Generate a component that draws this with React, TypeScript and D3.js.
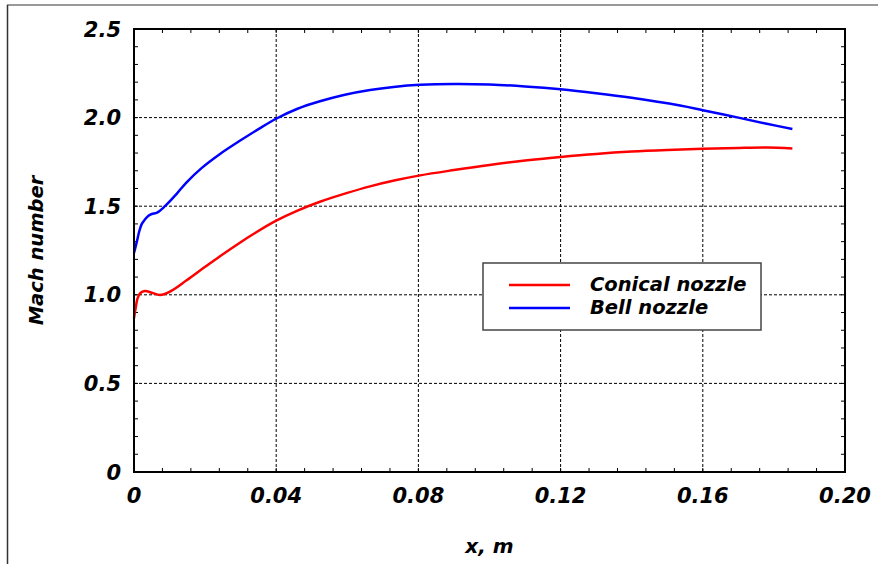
import React from "react";
import * as d3 from "d3";

const xTicks = [0, 0.04, 0.08, 0.12, 0.16, 0.2];
const xTickLabels = ["0", "0.04", "0.08", "0.12", "0.16", "0.20"];
const yTicks = [0, 0.5, 1.0, 1.5, 2.0, 2.5];
const yTickLabels = ["0", "0.5", "1.0", "1.5", "2.0", "2.5"];

const bellX = [0, 0.0008, 0.0015, 0.0022, 0.003, 0.004, 0.005, 0.0065, 0.0087, 0.012, 0.0148, 0.019, 0.0242, 0.03, 0.035, 0.0401, 0.046, 0.0523, 0.059, 0.0664, 0.073, 0.0805, 0.09, 0.1, 0.11, 0.12, 0.13, 0.14, 0.1536, 0.16, 0.17, 0.178, 0.1852];
const bellM = [1.236, 1.3, 1.36, 1.4, 1.423, 1.445, 1.456, 1.464, 1.5, 1.57, 1.635, 1.715, 1.795, 1.872, 1.935, 1.995, 2.05, 2.092, 2.128, 2.156, 2.173, 2.185, 2.19, 2.187, 2.176, 2.16, 2.138, 2.112, 2.068, 2.042, 2.0, 1.965, 1.936];

const conicalX = [0, 0.0005, 0.001, 0.0018, 0.0031, 0.005, 0.0073, 0.01, 0.0148, 0.02, 0.0242, 0.03, 0.0336, 0.04, 0.046, 0.0523, 0.06, 0.0664, 0.0735, 0.0805, 0.09, 0.1, 0.11, 0.12, 0.13, 0.14, 0.15, 0.16, 0.17, 0.178, 0.1852];
const conicalM = [0.867, 0.93, 0.98, 1.01, 1.021, 1.012, 0.999, 1.017, 1.082, 1.158, 1.218, 1.297, 1.343, 1.418, 1.475, 1.525, 1.575, 1.612, 1.646, 1.674, 1.704, 1.733, 1.758, 1.778, 1.795, 1.808, 1.817, 1.824, 1.829, 1.831, 1.826];

const seriesNames = ["Conical nozzle", "Bell nozzle"];
const seriesColors = ["#ff0000", "#0000ff"];

const W = 878, H = 564;
const L = 134, R = 845, T = 29, B = 472;
const FONT = "'DejaVu Sans', Verdana, sans-serif";

export default function App() {
  const x = d3.scaleLinear().domain([0, 0.2]).range([L, R]);
  const y = d3.scaleLinear().domain([0, 2.5]).range([B, T]);
  const line = d3
    .line<[number, number]>()
    .x((d) => x(d[0]))
    .y((d) => y(d[1]))
    .curve(d3.curveCatmullRom.alpha(0.5));

  const conical: [number, number][] = conicalX.map((v, i) => [v, conicalM[i]]);
  const bell: [number, number][] = bellX.map((v, i) => [v, bellM[i]]);

  const xMinor = d3.range(0, 0.2001, 0.008);
  const yMinor = d3.range(0, 2.5001, 0.1);
  const tl = 4;

  const legX = 483, legY = 263, legW = 278, legH = 67;

  return (
    <svg
      width={W}
      height={H}
      style={{ position: "absolute", left: 0, top: 0, background: "#fff" }}
      xmlns="http://www.w3.org/2000/svg"
    >
      <rect x={0} y={0} width={W} height={H} fill="#fff" />
      {/* outer frame */}
      <line x1={7} y1={5} x2={W} y2={5} stroke="#999" strokeWidth={2} />
      <line x1={7.5} y1={5} x2={7.5} y2={H} stroke="#333" strokeWidth={1.5} />

      {/* grid */}
      {xTicks.slice(1, -1).map((t) => (
        <line key={"gx" + t} x1={x(t)} x2={x(t)} y1={T} y2={B} stroke="#000" strokeWidth={1} strokeDasharray="3,2" />
      ))}
      {yTicks.slice(1, -1).map((t) => (
        <line key={"gy" + t} x1={L} x2={R} y1={y(t)} y2={y(t)} stroke="#000" strokeWidth={1} strokeDasharray="3,2" />
      ))}

      {/* minor ticks */}
      {xMinor.map((t, i) => (
        <g key={"mx" + i}>
          <line x1={x(t)} x2={x(t)} y1={B} y2={B - tl} stroke="#000" strokeWidth={1} />
          <line x1={x(t)} x2={x(t)} y1={T} y2={T + tl} stroke="#000" strokeWidth={1} />
        </g>
      ))}
      {yMinor.map((t, i) => (
        <g key={"my" + i}>
          <line x1={L} x2={L + tl} y1={y(t)} y2={y(t)} stroke="#000" strokeWidth={1} />
          <line x1={R} x2={R - tl} y1={y(t)} y2={y(t)} stroke="#000" strokeWidth={1} />
        </g>
      ))}

      {/* curves */}
      <path d={line(conical) || ""} fill="none" stroke={seriesColors[0]} strokeWidth={2.5} />
      <path d={line(bell) || ""} fill="none" stroke={seriesColors[1]} strokeWidth={2.5} />

      {/* plot frame */}
      <rect x={L} y={T} width={R - L} height={B - T} fill="none" stroke="#000" strokeWidth={2} />

      {/* tick labels */}
      {xTicks.map((t, i) => (
        <text key={"xl" + t} x={x(t)} y={503} textAnchor="middle" fontFamily={FONT} fontWeight="bold" fontStyle="italic" fontSize={21}>
          {xTickLabels[i]}
        </text>
      ))}
      {yTicks.map((t, i) => (
        <text key={"yl" + t} x={121} y={y(t)} dy="0.36em" textAnchor="end" fontFamily={FONT} fontWeight="bold" fontStyle="italic" fontSize={21}>
          {yTickLabels[i]}
        </text>
      ))}

      {/* axis titles */}
      <text x={(L + R) / 2} y={553} textAnchor="middle" fontFamily={FONT} fontWeight="bold" fontStyle="italic" fontSize={20}>
        x, m
      </text>
      <text
        transform={`translate(43, ${(T + B) / 2}) rotate(-90)`}
        textAnchor="middle"
        fontFamily={FONT}
        fontWeight="bold"
        fontStyle="italic"
        fontSize={19.5}
      >
        Mach number
      </text>

      {/* legend */}
      <rect x={legX} y={legY} width={legW} height={legH} fill="#fff" stroke="#444" strokeWidth={1.5} />
      {seriesNames.map((n, i) => (
        <g key={n}>
          <line x1={509} x2={570} y1={285 + i * 23} y2={285 + i * 23} stroke={seriesColors[i]} strokeWidth={2.5} />
          <text x={590} y={291 + i * 22.5} fontFamily={FONT} fontWeight="bold" fontStyle="italic" fontSize={19.5}>
            {n}
          </text>
        </g>
      ))}
    </svg>
  );
}
